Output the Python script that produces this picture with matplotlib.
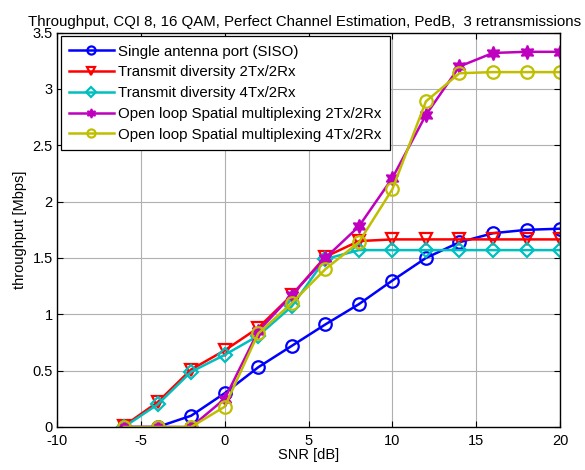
import matplotlib
matplotlib.use("Agg")
import matplotlib.pyplot as plt

plt.rcParams["font.family"] = ["Liberation Sans", "DejaVu Sans"]
plt.rcParams["axes.unicode_minus"] = False

snr = [-6, -4, -2, 0, 2, 4, 6, 8, 10, 12, 14, 16, 18, 20]
siso = [0.0, 0.0, 0.1, 0.3, 0.53, 0.72, 0.91, 1.09, 1.30, 1.50, 1.64, 1.72, 1.75, 1.76]
txd_2x2 = [0.01, 0.22, 0.51, 0.68, 0.88, 1.17, 1.51, 1.65, 1.665, 1.665, 1.665, 1.665, 1.665, 1.665]
txd_4x2 = [0.0, 0.2, 0.49, 0.64, 0.81, 1.07, 1.49, 1.57, 1.57, 1.57, 1.57, 1.57, 1.57, 1.57]
olsm_2x2 = [0.0, 0.0, 0.0, 0.25, 0.85, 1.17, 1.5, 1.78, 2.21, 2.77, 3.2, 3.32, 3.33, 3.33]
olsm_4x2 = [0.0, 0.0, 0.0, 0.18, 0.83, 1.1, 1.4, 1.64, 2.11, 2.89, 3.14, 3.15, 3.15, 3.15]

labels = ["Single antenna port (SISO)",
          "Transmit diversity 2Tx/2Rx",
          "Transmit diversity 4Tx/2Rx",
          "Open loop Spatial multiplexing 2Tx/2Rx",
          "Open loop Spatial multiplexing 4Tx/2Rx"]

fig = plt.figure(figsize=(5.85, 4.7), dpi=100)
ax = fig.add_axes([0.0974, 0.0915, 0.86, 0.839])

ax.plot(snr, siso, color=(0, 0, 1), marker="o", mfc="none", ms=9, mew=1.6, lw=1.8, label=labels[0])
ax.plot(snr, txd_2x2, color=(1, 0, 0), marker="v", mfc="none", ms=9, mew=1.6, lw=1.8, label=labels[1])
ax.plot(snr, txd_4x2, color=(0, 0.75, 0.75), marker="D", mfc="none", ms=7.5, mew=1.6, lw=1.8, label=labels[2])
ax.plot(snr, olsm_2x2, color=(0.75, 0, 0.75), marker=(6, 1, 0), ms=10, mew=1.2, lw=1.8, label=labels[3])
ax.plot(snr, olsm_4x2, color=(0.75, 0.75, 0), marker="o", mfc="none", ms=9, mew=1.6, lw=1.8, label=labels[4])

ax.set_xlim(-10, 20)
ax.set_ylim(0, 3.5)
ax.set_xticks(range(-10, 21, 5))
ax.set_yticks([0, 0.5, 1, 1.5, 2, 2.5, 3, 3.5])
ax.set_yticklabels(["0", "0.5", "1", "1.5", "2", "2.5", "3", "3.5"])
ax.grid(True, color="#b0b0b0", lw=0.8)
ax.tick_params(direction="in", top=True, right=True, labelsize=10.5, length=4)
ax.tick_params(axis="x", pad=5)
ax.tick_params(axis="y", pad=3)
for s in ax.spines.values():
    s.set_linewidth(1.0)
ax.set_xlabel("SNR [dB]", fontsize=10.5, labelpad=0)
ax.set_ylabel("throughput [Mbps]", fontsize=10.5, labelpad=4)
ax.set_title("Throughput, CQI 8, 16 QAM, Perfect Channel Estimation, PedB,  3 retransmissions",
             fontsize=10.8, pad=5, x=0.493)

leg = ax.legend(loc="upper left", fontsize=10.8, fancybox=False, framealpha=1,
                edgecolor="black", borderaxespad=0.25, handlelength=3.0,
                handletextpad=0.3, labelspacing=0.45, borderpad=0.55,
                markerscale=0.65)
leg.get_frame().set_linewidth(0.9)

fig.savefig("out.png", dpi=100)
